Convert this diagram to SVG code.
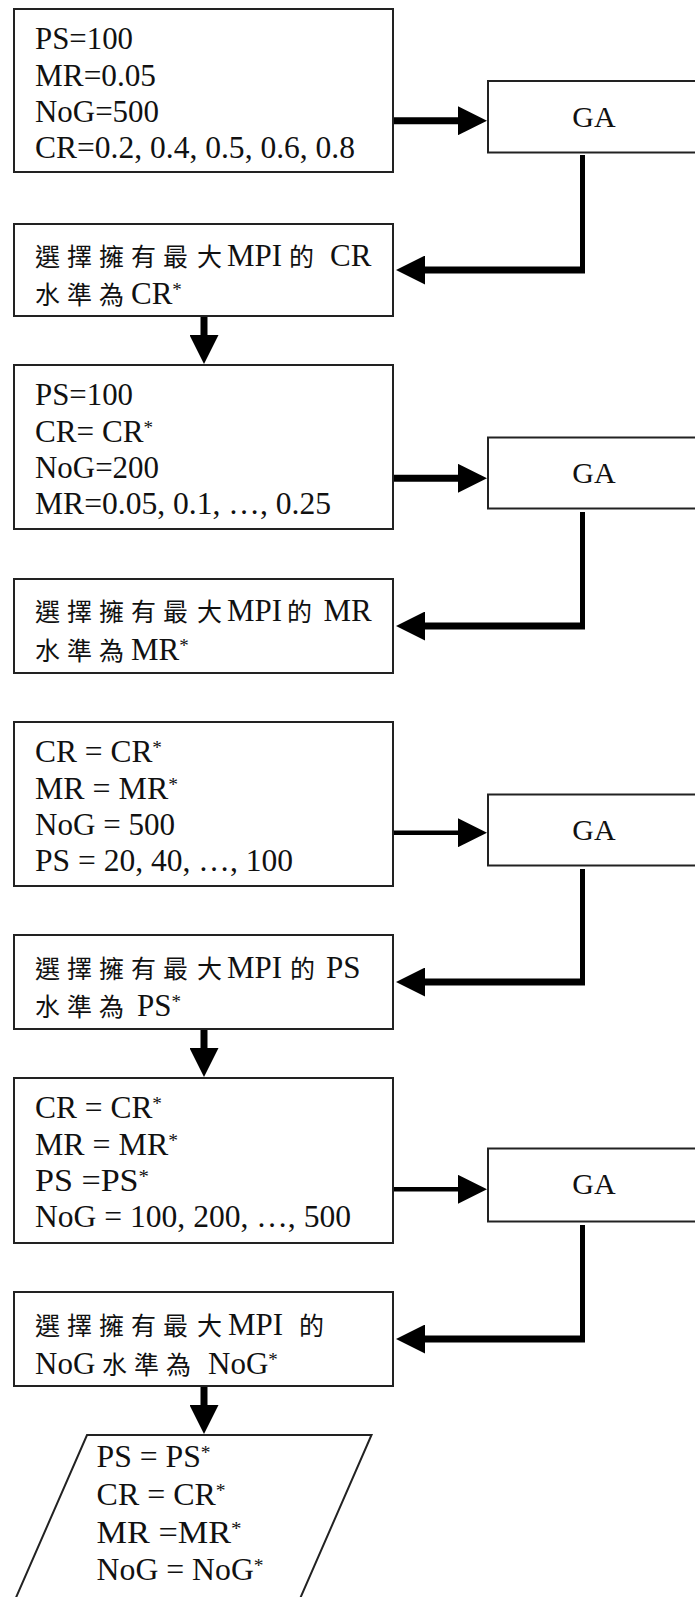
<svg xmlns="http://www.w3.org/2000/svg" width="695" height="1597" viewBox="0 0 695 1597">
<style>
.box{fill:#fff;stroke:#222;stroke-width:2}
.t{font-family:'Liberation Serif','Noto Sans CJK TC',serif;font-size:31px;fill:#111}
.ga{font-family:'Liberation Serif',serif;font-size:30px;fill:#111;text-anchor:middle}
.cj{font-family:'Noto Sans CJK TC','Noto Sans CJK SC',sans-serif;font-size:25px;letter-spacing:7px}
.cj1{font-family:'Noto Sans CJK TC','Noto Sans CJK SC',sans-serif;font-size:25px}
.st{font-size:19px}
.thick{stroke:#000;stroke-width:7;fill:none}
.thin{stroke:#000;stroke-width:4.5;fill:none}
.vert{stroke:#000;stroke-width:5;fill:none}
</style>
<defs>
<marker id="ah" markerUnits="userSpaceOnUse" markerWidth="29" markerHeight="29" refX="0" refY="14.5" orient="auto" viewBox="0 0 29 29">
<path d="M0,0 L29,14.5 L0,29 Z" fill="#000"/>
</marker>
</defs>
<rect width="695" height="1597" fill="#fff"/>

<g id="connectors">
<line class="thick" x1="393" y1="120.7" x2="458" y2="120.7" marker-end="url(#ah)"/>
<line class="vert" x1="582.5" y1="155" x2="582.5" y2="273"/>
<line class="thick" x1="585" y1="270" x2="425" y2="270" marker-end="url(#ah)"/>
<line class="thick" x1="204" y1="316" x2="204" y2="335" marker-end="url(#ah)"/>

<line class="thick" x1="393" y1="478.3" x2="458" y2="478.3" marker-end="url(#ah)"/>
<line class="vert" x1="582.5" y1="512" x2="582.5" y2="629"/>
<line class="thick" x1="585" y1="626" x2="425" y2="626" marker-end="url(#ah)"/>

<line class="thin" x1="393" y1="832.7" x2="458" y2="832.7" marker-end="url(#ah)"/>
<line class="vert" x1="582.5" y1="869" x2="582.5" y2="985"/>
<line class="thick" x1="585" y1="982" x2="425" y2="982" marker-end="url(#ah)"/>
<line class="thick" x1="204" y1="1029" x2="204" y2="1048" marker-end="url(#ah)"/>

<line class="thin" x1="393" y1="1189.3" x2="458" y2="1189.3" marker-end="url(#ah)"/>
<line class="vert" x1="582.5" y1="1225" x2="582.5" y2="1342"/>
<line class="thick" x1="585" y1="1339" x2="425" y2="1339" marker-end="url(#ah)"/>
<line class="thick" x1="204" y1="1386" x2="204" y2="1405" marker-end="url(#ah)"/>
</g>

<g id="box1">
<rect class="box" x="14" y="9" width="379" height="163"/>
<text class="t" x="35" y="49" textLength="98" lengthAdjust="spacingAndGlyphs">PS=100</text>
<text class="t" x="35" y="85.5" textLength="121" lengthAdjust="spacingAndGlyphs">MR=0.05</text>
<text class="t" x="35" y="122" textLength="124" lengthAdjust="spacingAndGlyphs">NoG=500</text>
<text class="t" x="35" y="158" textLength="320" lengthAdjust="spacingAndGlyphs">CR=0.2, 0.4, 0.5, 0.6, 0.8</text>
</g>
<g id="ga1">
<rect class="box" x="488" y="81" width="215" height="71.5"/>
<text class="ga" x="594" y="126.7">GA</text>
</g>
<g id="box2">
<rect class="box" x="14" y="224" width="379" height="92"/>
<text class="t" y="266"><tspan class="cj" x="35">選擇擁有最</tspan><tspan class="cj1" x="197">大</tspan><tspan x="227">MPI</tspan><tspan class="cj1" x="289">的</tspan><tspan x="330">CR</tspan></text>
<text class="t" y="304"><tspan class="cj" x="35">水準</tspan><tspan class="cj1" x="99">為</tspan><tspan x="131">CR</tspan><tspan class="st" dy="-8">*</tspan></text>
</g>

<g id="box3">
<rect class="box" x="14" y="365" width="379" height="164"/>
<text class="t" x="35" y="405" textLength="98" lengthAdjust="spacingAndGlyphs">PS=100</text>
<text class="t" x="35" y="441.5" textLength="118" lengthAdjust="spacingAndGlyphs">CR= CR<tspan class="st" dy="-8">*</tspan></text>
<text class="t" x="35" y="478" textLength="124" lengthAdjust="spacingAndGlyphs">NoG=200</text>
<text class="t" x="35" y="514" textLength="296" lengthAdjust="spacingAndGlyphs">MR=0.05, 0.1, …, 0.25</text>
</g>
<g id="ga2">
<rect class="box" x="488" y="437.5" width="215" height="71"/>
<text class="ga" x="594" y="483.3">GA</text>
</g>
<g id="box4">
<rect class="box" x="14" y="579" width="379" height="94"/>
<text class="t" y="621"><tspan class="cj" x="35">選擇擁有最</tspan><tspan class="cj1" x="197">大</tspan><tspan x="227">MPI</tspan><tspan class="cj1" x="287">的</tspan><tspan x="323.5">MR</tspan></text>
<text class="t" y="660"><tspan class="cj" x="35">水準</tspan><tspan class="cj1" x="99">為</tspan><tspan x="131">MR</tspan><tspan class="st" dy="-8">*</tspan></text>
</g>

<g id="box5">
<rect class="box" x="14" y="722" width="379" height="164"/>
<text class="t" x="35" y="762" textLength="127" lengthAdjust="spacingAndGlyphs">CR = CR<tspan class="st" dy="-8">*</tspan></text>
<text class="t" x="35" y="798.5" textLength="143" lengthAdjust="spacingAndGlyphs">MR = MR<tspan class="st" dy="-8">*</tspan></text>
<text class="t" x="35" y="835" textLength="140" lengthAdjust="spacingAndGlyphs">NoG = 500</text>
<text class="t" x="35" y="871" textLength="258" lengthAdjust="spacingAndGlyphs">PS = 20, 40, …, 100</text>
</g>
<g id="ga3">
<rect class="box" x="488" y="794.5" width="215" height="71"/>
<text class="ga" x="594" y="840.3">GA</text>
</g>
<g id="box6">
<rect class="box" x="14" y="935" width="379" height="94"/>
<text class="t" y="978"><tspan class="cj" x="35">選擇擁有最</tspan><tspan class="cj1" x="197">大</tspan><tspan x="227">MPI</tspan><tspan class="cj1" x="290">的</tspan><tspan x="326">PS</tspan></text>
<text class="t" y="1016"><tspan class="cj" x="35">水準</tspan><tspan class="cj1" x="99">為</tspan><tspan x="137">PS</tspan><tspan class="st" dy="-8">*</tspan></text>
</g>

<g id="box7">
<rect class="box" x="14" y="1078" width="379" height="165"/>
<text class="t" x="35" y="1118" textLength="127" lengthAdjust="spacingAndGlyphs">CR = CR<tspan class="st" dy="-8">*</tspan></text>
<text class="t" x="35" y="1154.5" textLength="143" lengthAdjust="spacingAndGlyphs">MR = MR<tspan class="st" dy="-8">*</tspan></text>
<text class="t" x="35" y="1191" textLength="114" lengthAdjust="spacingAndGlyphs">PS =PS<tspan class="st" dy="-8">*</tspan></text>
<text class="t" x="35" y="1227" textLength="316" lengthAdjust="spacingAndGlyphs">NoG = 100, 200, …, 500</text>
</g>
<g id="ga4">
<rect class="box" x="488" y="1148.5" width="215" height="73"/>
<text class="ga" x="594" y="1194.3">GA</text>
</g>
<g id="box8">
<rect class="box" x="14" y="1292" width="379" height="94"/>
<text class="t" y="1335"><tspan class="cj" x="35">選擇擁有最</tspan><tspan class="cj1" x="197">大</tspan><tspan x="228">MPI</tspan><tspan class="cj1" x="299">的</tspan></text>
<text class="t" y="1374"><tspan x="35">NoG</tspan><tspan class="cj" x="102">水準</tspan><tspan class="cj1" x="166">為</tspan><tspan x="208">NoG</tspan><tspan class="st" dy="-8">*</tspan></text>
</g>

<g id="output">
<polygon class="box" points="87,1435 371.5,1435 299,1601 14.5,1601"/>
<text class="t" x="96.6" y="1466.7" textLength="114" lengthAdjust="spacingAndGlyphs">PS = PS<tspan class="st" dy="-8">*</tspan></text>
<text class="t" x="96.6" y="1505" textLength="129" lengthAdjust="spacingAndGlyphs">CR = CR<tspan class="st" dy="-8">*</tspan></text>
<text class="t" x="96.6" y="1543.3" textLength="145" lengthAdjust="spacingAndGlyphs">MR =MR<tspan class="st" dy="-8">*</tspan></text>
<text class="t" x="96.6" y="1580" textLength="167" lengthAdjust="spacingAndGlyphs">NoG = NoG<tspan class="st" dy="-8">*</tspan></text>
</g>
</svg>
